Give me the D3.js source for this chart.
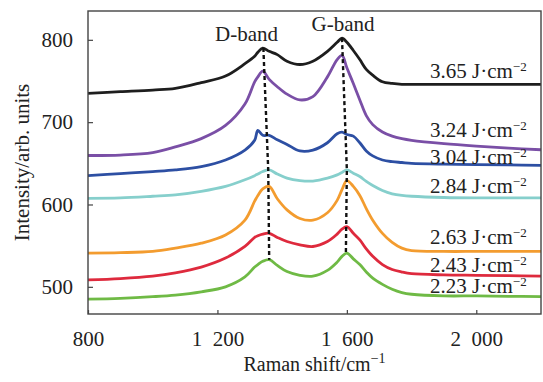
<!DOCTYPE html>
<html>
<head>
<meta charset="utf-8">
<script src="https://cdn.jsdelivr.net/npm/d3@7"></script>
<style>
  body { margin: 0; background: #fff; }
  svg text { font-family: "Liberation Serif", "DejaVu Serif", serif; fill: #222; }
</style>
</head>
<body>
<div id="chart"></div>
<script>
// Raman shift sample points (cm^-1), shared by every spectrum
const shift = [800, 900, 1000, 1070, 1150, 1225, 1285, 1315, 1325, 1340, 1360, 1385, 1415, 1455, 1495,
  1540, 1570, 1585, 1600, 1620, 1640, 1660, 1680, 1710, 1740, 1770, 1800, 1900, 2000, 2100, 2200];

const s365 = [735, 737, 739, 741, 748, 756, 771, 780, 785, 790, 786, 782, 774, 770, 774,
  786, 797, 802, 797, 787, 776, 764, 757, 749, 747, 746, 746, 746, 746, 746, 746];
const s324 = [659.5, 660, 663, 670, 680, 696, 722, 749, 755, 762, 752, 743, 734, 727, 731,
  755, 776, 781, 766, 747, 727, 708, 697, 688, 683, 680, 678, 674, 671, 668.5, 666.5];
const s304 = [635, 637.5, 640, 642, 646, 654, 666, 678, 690, 684, 684, 678.5, 673, 665, 666,
  675, 686, 688, 685, 683, 675, 665, 659, 654, 652, 651, 650, 649, 648.5, 648, 647.5];
const s284 = [607.5, 608, 610, 611.7, 616, 622, 630, 635, 637, 640, 642, 637, 632, 629, 628.5,
  632, 636, 639, 642, 638, 634, 628, 623, 617, 613, 611, 610, 608.5, 608, 608, 608];
const s263 = [541, 541.5, 543, 547, 553, 563, 581, 604, 611, 619, 622, 607, 593.5, 583, 581,
  590, 605, 618, 629, 622, 611, 595, 581, 565, 554, 547, 544, 543, 543, 543, 543];
const s243 = [508.4, 510, 513, 517, 524, 535, 549, 560, 562, 564, 565, 560, 555, 551, 549,
  555, 564, 570, 573, 565, 557, 546, 537, 527, 521, 518, 516, 514.5, 514, 513.5, 513];
const s223 = [485, 486, 488, 490, 494, 500, 512, 524, 527, 531, 533, 526, 518.5, 514, 513,
  520, 530, 537, 541, 534, 527, 518, 510.5, 503, 497, 493, 491, 489, 489, 488.5, 488];

const seriesNames = ['3.65', '3.24', '3.04', '2.84', '2.63', '2.43', '2.23'];
const seriesValues = [s365, s324, s304, s284, s263, s243, s223];
const seriesColors = ['#1e1e1e', '#7a4fa6', '#2d4fa3', '#86cfcc', '#f39c2f', '#de2a3d', '#6fba45'];
const labelY = [753.8, 682.1, 649.3, 614.1, 552.1, 518.1, 492.2];

// peak-tracking dashed guides
const dShift = [1342, 1357, 1360];
const dInt = [790, 642, 533];
const gShift = [1585, 1600, 1597];
const gInt = [802, 642, 541];

const xTicks = [800, 1200, 1600, 2000];
const yTicks = [500, 600, 700, 800];

const width = 543, height = 382;
const plotLeft = 88, plotRight = 541, plotTop = 11, plotBottom = 314;

const svg = d3.select('#chart').append('svg')
  .attr('width', width)
  .attr('height', height);

const x = d3.scaleLinear().domain([800, 2200]).range([plotLeft, plotRight]);
const y = d3.scaleLinear().domain([467, 835]).range([plotBottom, plotTop]);

const line = d3.line()
  .x(d => x(d[0]))
  .y(d => y(d[1]))
  .curve(d3.curveCatmullRom.alpha(0.5));

seriesValues.forEach((vals, i) => {
  svg.append('path')
    .datum(shift.map((s, j) => [s, vals[j]]))
    .attr('fill', 'none')
    .attr('stroke', seriesColors[i])
    .attr('stroke-width', 2.8)
    .attr('stroke-linejoin', 'round')
    .attr('d', line);
});

// dashed peak guides
const guide = d3.line().x(d => x(d[0])).y(d => y(d[1]));
[[dShift, dInt], [gShift, gInt]].forEach(([sx, sy]) => {
  svg.append('path')
    .datum(sx.map((s, j) => [s, sy[j]]))
    .attr('fill', 'none')
    .attr('stroke', '#111')
    .attr('stroke-width', 2.4)
    .attr('stroke-dasharray', '4,3')
    .attr('d', guide);
});

// frame
svg.append('rect')
  .attr('x', plotLeft).attr('y', plotTop)
  .attr('width', plotRight - plotLeft).attr('height', plotBottom - plotTop)
  .attr('fill', 'none')
  .attr('stroke', '#444')
  .attr('stroke-width', 1.4);

// axes with inward ticks
const fmt = d => d3.format(',')(d).replace(',', '\u2002');

const xAxis = svg.append('g')
  .attr('transform', `translate(0,${plotBottom})`)
  .call(d3.axisBottom(x).tickValues(xTicks).tickSize(-4).tickPadding(0).tickFormat(fmt));
xAxis.select('.domain').remove();
xAxis.selectAll('line').attr('stroke', '#444').attr('stroke-width', 1.2);
xAxis.selectAll('text')
  .attr('y', 32)
  .attr('dy', 0)
  .style('font-size', '21px');

const yAxis = svg.append('g')
  .attr('transform', `translate(${plotLeft},0)`)
  .call(d3.axisLeft(y).tickValues(yTicks).tickSize(-5).tickPadding(0));
yAxis.select('.domain').remove();
yAxis.selectAll('line').attr('stroke', '#444').attr('stroke-width', 1.2);
yAxis.selectAll('text')
  .attr('x', -15)
  .style('font-size', '21px');

// band labels
svg.append('text')
  .attr('x', x(1290)).attr('y', y(799))
  .attr('text-anchor', 'middle')
  .style('font-size', '21px')
  .text('D-band');
svg.append('text')
  .attr('x', x(1588)).attr('y', y(811))
  .attr('text-anchor', 'middle')
  .style('font-size', '21px')
  .text('G-band');

// fluence labels
seriesNames.forEach((name, i) => {
  const t = svg.append('text')
    .attr('x', x(1857))
    .attr('y', y(labelY[i]))
    .style('font-size', '21px');
  t.append('tspan').text(`${name} J\u00b7cm`);
  t.append('tspan').attr('dy', -7).style('font-size', '13px').text('\u22122');
});

// axis titles
const xt = svg.append('text')
  .attr('x', (plotLeft + plotRight) / 2)
  .attr('y', 371)
  .attr('text-anchor', 'middle')
  .style('font-size', '20px');
xt.append('tspan').text('Raman shift/cm');
xt.append('tspan').attr('dy', -8).style('font-size', '14px').text('\u22121');

svg.append('text')
  .attr('transform', `translate(29,${(plotTop + plotBottom) / 2}) rotate(-90)`)
  .attr('text-anchor', 'middle')
  .style('font-size', '21px')
  .text('Intensity/arb. units');
</script>
</body>
</html>
